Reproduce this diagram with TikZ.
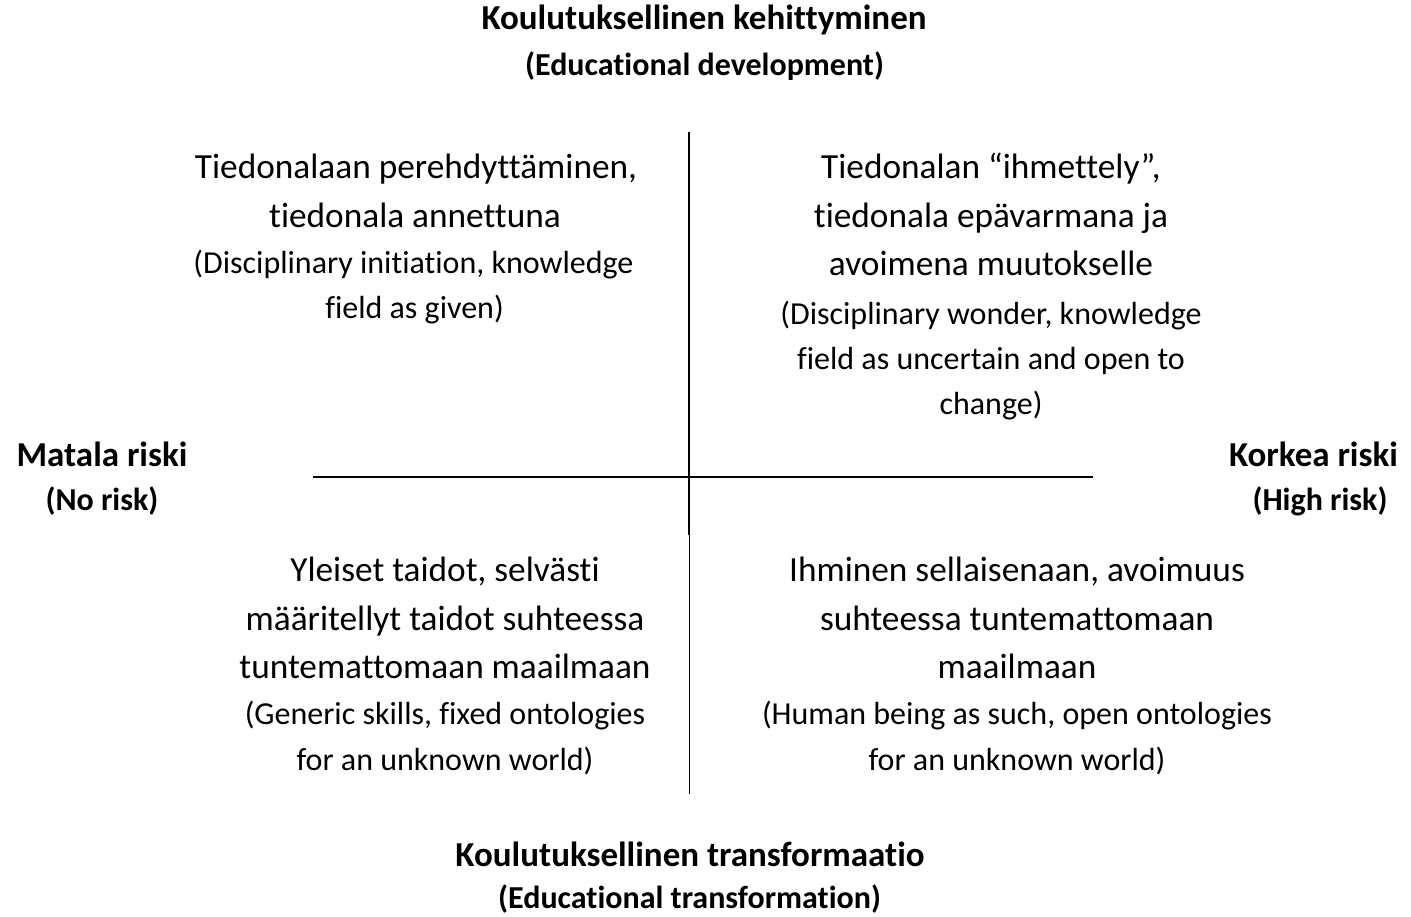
\documentclass[tikz,border=0pt]{standalone}
\usepackage{fontspec}
\setmainfont{Carlito}[RawFeature=-liga]
\begin{document}
\begin{tikzpicture}[x=1pt,y=-1pt,
  big/.style={anchor=base,inner sep=0pt,font=\fontsize{35.3}{42}\selectfont},
  small/.style={anchor=base,inner sep=0pt,font=\fontsize{32}{38}\selectfont},
  head/.style={anchor=base,inner sep=0pt,font=\bfseries\fontsize{35}{42}\selectfont},
  subhead/.style={anchor=base,inner sep=0pt,font=\bfseries\fontsize{32}{38}\selectfont},
  axis/.style={line width=2.2pt,black},
  thinaxis/.style={line width=1.3pt,black}]
\useasboundingbox (0,0) rectangle (1411,917);
% axes
\coordinate (vtop) at (689,132);
\coordinate (vmid) at (689,535);
\coordinate (vbot) at (689.5,794);
\coordinate (vmid2) at (689.5,535);
\coordinate (hl) at (313,477);
\coordinate (hr) at (1093,477);
\draw[axis] (vtop) -- (vmid);
\draw[thinaxis] (vmid2) -- (vbot);
\draw[axis] (hl) -- (hr);
% headings
\node[head] (t1) at (704,30) {Koulutuksellinen kehittyminen};
\node[subhead] (t2) at (704.5,76) {(Educational development)};
\node[head] (b1) at (690,866) {Koulutuksellinen transformaatio};
\node[subhead] (b2) at (689.5,908) {(Educational transformation)};
\node[head] (l1) at (102,466) {Matala riski};
\node[subhead] (l2) at (102,510) {(No risk)};
\node[head] (r1) at (1313.5,466) {Korkea riski};
\node[subhead] (r2) at (1320,510) {(High risk)};
% top left
\node[big] (tl1) at (416,179) {Tiedonalaan perehdyttäminen,};
\node[big] (tl2) at (415,228) {tiedonala annettuna};
\node[small] (tl3) at (413.5,274) {(Disciplinary initiation, knowledge};
\node[small] (tl4) at (414.5,319) {field as given)};
% top right
\node[big] (tr1) at (991,179) {Tiedonalan “ihmettely”,};
\node[big] (tr2) at (991,228) {tiedonala epävarmana ja};
\node[big] (tr3) at (991,276) {avoimena muutokselle};
\node[small] (tr4) at (991,324) {(Disciplinary wonder, knowledge};
\node[small] (tr5) at (991,369) {field as uncertain and open to};
\node[small] (tr6) at (991,414) {change)};
% bottom left
\node[big] (bl1) at (445,581) {Yleiset taidot, selvästi};
\node[big] (bl2) at (445,630) {määritellyt taidot suhteessa};
\node[big] (bl3) at (445,678) {tuntemattomaan maailmaan};
\node[small] (bl4) at (445,724) {(Generic skills, fixed ontologies};
\node[small] (bl5) at (445,770) {for an unknown world)};
% bottom right
\node[big] (br1) at (1017,581) {Ihminen sellaisenaan, avoimuus};
\node[big] (br2) at (1017,630) {suhteessa tuntemattomaan};
\node[big] (br3) at (1017,678) {maailmaan};
\node[small] (br4) at (1017,724) {(Human being as such, open ontologies};
\node[small] (br5) at (1017,770) {for an unknown world)};
\end{tikzpicture}
\end{document}
